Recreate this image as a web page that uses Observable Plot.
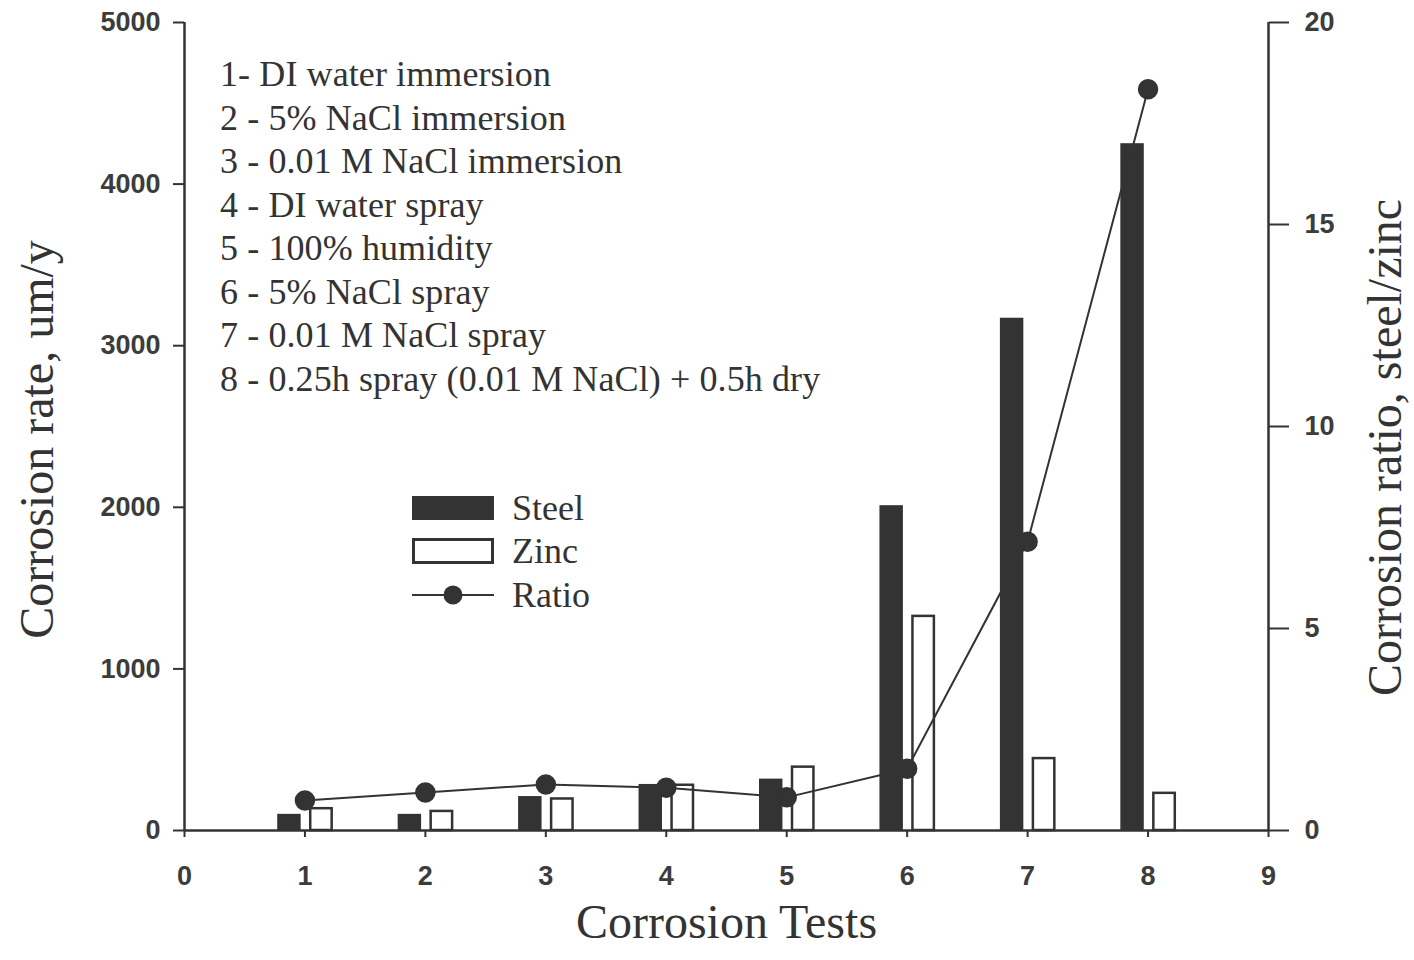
<!DOCTYPE html>
<html>
<head>
<meta charset="utf-8">
<script src="https://cdn.jsdelivr.net/npm/d3@7"></script>
<script src="https://cdn.jsdelivr.net/npm/@observablehq/plot@0.6"></script>
<style>
  html, body { margin: 0; padding: 0; background: #ffffff; }
  #wrap { position: relative; width: 1414px; height: 960px; overflow: hidden; }
  .serif { font-family: "Liberation Serif", "DejaVu Serif", serif; color: #333; }
  #desc { position: absolute; left: 220px; top: 53px; font-size: 36px; line-height: 43.5px; letter-spacing: 0.1px; white-space: nowrap; }
  #legend { position: absolute; left: 412px; top: 486px; font-size: 36px; }
  #legend .row { display: flex; align-items: center; height: 43.5px; }
  #legend svg { margin-right: 18px; }
</style>
</head>
<body>
<div id="wrap"></div>
<script>
// ---- data ----
const tests = [1, 2, 3, 4, 5, 6, 7, 8];
const steelRate = [100, 100, 210, 285, 318, 2010, 3170, 4250];
const zincRate = [135, 118, 195, 280, 392, 1325, 445, 230];
const ratio = [0.74, 0.94, 1.14, 1.06, 0.82, 1.53, 7.15, 18.35];
const xTicks = [0, 1, 2, 3, 4, 5, 6, 7, 8, 9];
const yTicks = [0, 1000, 2000, 3000, 4000, 5000];
const ratioTicks = [0, 5, 10, 15, 20];
const descriptions = [
  "1- DI water immersion",
  "2 - 5% NaCl immersion",
  "3 - 0.01 M NaCl immersion",
  "4 - DI water spray",
  "5 - 100% humidity",
  "6 - 5% NaCl spray",
  "7 - 0.01 M NaCl spray",
  "8 - 0.25h spray (0.01 M NaCl) + 0.5h dry"
];
const seriesNames = ["Steel", "Zinc", "Ratio"];
const xTitle = "Corrosion Tests";
const yTitle = "Corrosion rate, um/y";
const y2Title = "Corrosion ratio, steel/zinc";

const yDomain = [0, 5000];
const ratioDomain = [0, 20];
const k = yDomain[1] / ratioDomain[1];

const rows = tests.map((t, i) => ({test: t, steel: steelRate[i], zinc: zincRate[i], ratio: ratio[i]}));

const ink = "#333333";
const tickInk = "#3c3c3c";
const sans = "'Liberation Sans', Arial, sans-serif";
const serif = "'Liberation Serif', 'Times New Roman', serif";

const chart = Plot.plot({
  width: 1414,
  height: 960,
  marginLeft: 184,
  marginRight: 146,
  marginTop: 22,
  marginBottom: 130,
  x: {domain: [0, 9]},
  y: {domain: yDomain},
  style: {background: "transparent", color: ink, fontFamily: sans},
  marks: [
    Plot.rectY(rows, {x1: d => d.test - 0.5, x2: d => d.test + 0.5, y: "steel", fill: ink, insetLeft: 33, insetRight: 64}),
    Plot.rectY(rows, {x1: d => d.test - 0.5, x2: d => d.test + 0.5, y: "zinc", fill: "white", stroke: ink, strokeWidth: 2.5, insetLeft: 66, insetRight: 33}),
    Plot.line(rows, {x: "test", y: d => d.ratio * k, stroke: ink, strokeWidth: 2}),
    Plot.dot(rows, {x: "test", y: d => d.ratio * k, r: 9.5, fill: ink, stroke: ink}),
    Plot.ruleX([0, 9], {stroke: ink, strokeWidth: 2.5}),
    Plot.ruleY([0], {stroke: ink, strokeWidth: 2.5}),
    Plot.axisX({ticks: xTicks, tickFormat: d => String(d), tickSize: 7, tickPadding: 28, fontSize: 27, fontWeight: "bold", label: null, stroke: ink, strokeWidth: 2, fill: tickInk}),
    Plot.axisY({ticks: yTicks, tickFormat: d => String(d), tickSize: 11, tickPadding: 13, fontSize: 27, fontWeight: "bold", letterSpacing: 1, label: null, stroke: ink, strokeWidth: 2, fill: tickInk}),
    Plot.axisY({anchor: "right", ticks: ratioTicks.map(v => v * k), tickFormat: d => String(d / k), tickSize: 20, tickPadding: 16, fontSize: 27, fontWeight: "bold", letterSpacing: 1, label: null, stroke: ink, strokeWidth: 2, fill: tickInk}),
    Plot.text([xTitle], {frameAnchor: "bottom", dy: 107, fontSize: 48, fontFamily: serif, fill: ink, letterSpacing: -0.8}),
    Plot.text([yTitle], {frameAnchor: "left", textAnchor: "middle", dx: -147, dy: 13, rotate: -90, fontSize: 48, fontFamily: serif, fill: ink, letterSpacing: -0.8}),
    Plot.text([y2Title], {frameAnchor: "right", textAnchor: "middle", dx: 117, dy: 21, rotate: -90, fontSize: 48, fontFamily: serif, fill: ink, letterSpacing: -0.8})
  ]
});

const wrap = document.getElementById("wrap");
wrap.appendChild(chart);

const desc = document.createElement("div");
desc.id = "desc";
desc.className = "serif";
desc.innerHTML = descriptions.map(s => `<div>${s}</div>`).join("");
wrap.appendChild(desc);

const swatches = {
  Steel: `<svg width="82" height="26"><rect x="0" y="1" width="82" height="24" fill="${ink}"/></svg>`,
  Zinc: `<svg width="82" height="26"><rect x="1.5" y="1.5" width="79" height="23" fill="white" stroke="${ink}" stroke-width="3"/></svg>`,
  Ratio: `<svg width="82" height="26"><line x1="0" y1="13" x2="82" y2="13" stroke="${ink}" stroke-width="2"/><circle cx="41" cy="13" r="9.5" fill="${ink}"/></svg>`
};
const legend = document.createElement("div");
legend.id = "legend";
legend.className = "serif";
legend.innerHTML = seriesNames.map(n => `<div class="row">${swatches[n]}<span>${n}</span></div>`).join("");
wrap.appendChild(legend);
</script>
</body>
</html>
